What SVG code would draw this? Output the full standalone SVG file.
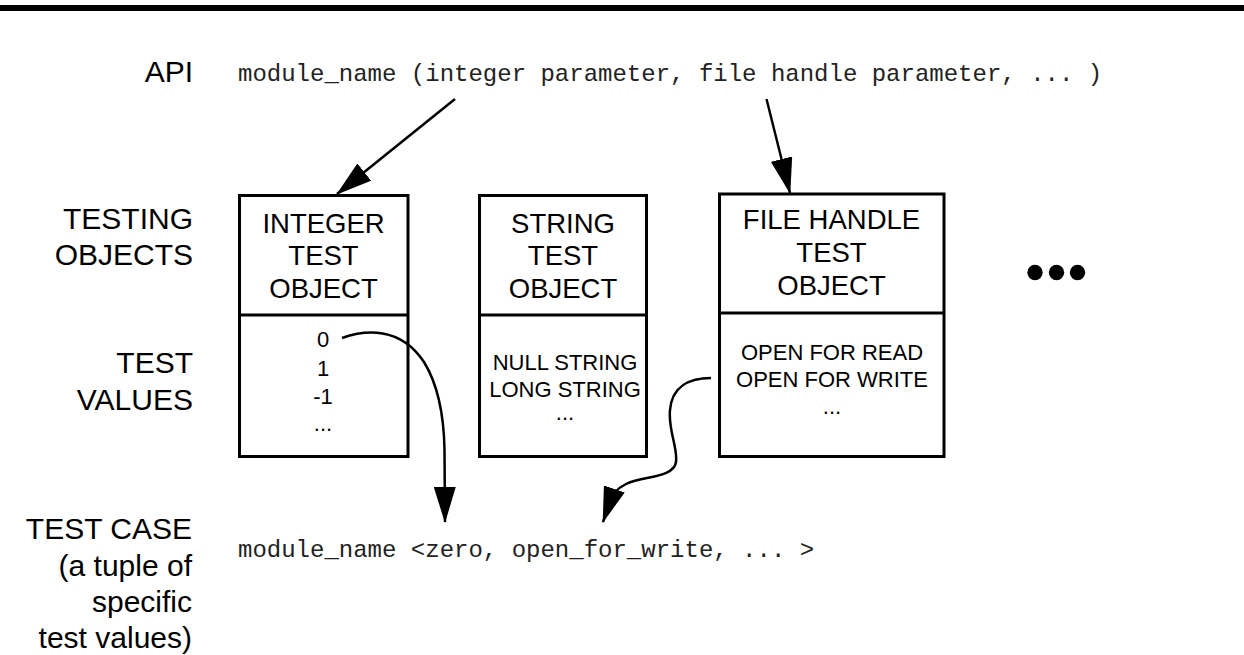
<svg xmlns="http://www.w3.org/2000/svg" width="1244" height="655" viewBox="0 0 1244 655">
<defs>
<style>
.lbl{font-family:"Liberation Sans",Arial,sans-serif;font-size:30px;fill:#000;text-anchor:end}
.ttl{font-family:"Liberation Sans",Arial,sans-serif;font-size:27.5px;fill:#000;text-anchor:middle}
.val{font-family:"Liberation Sans",Arial,sans-serif;font-size:22px;fill:#000;text-anchor:middle}
.mono{font-family:"Liberation Mono","Courier New",monospace;font-size:24px;fill:#222}
.box{fill:#fff;stroke:#000;stroke-width:3}
.div{stroke:#000;stroke-width:3}
.conn{fill:none;stroke:#000;stroke-width:2.5}
</style>
<marker id="arr" viewBox="0 0 36 22" refX="35" refY="11" markerWidth="36" markerHeight="22" markerUnits="userSpaceOnUse" orient="auto">
<path d="M0,0 L36,11 L0,22 Z" fill="#000"/>
</marker>
</defs>
<rect x="0" y="5" width="1244" height="6" fill="#000"/>

<g id="labels">
<text class="lbl" x="193" y="82">API</text>
<text class="lbl" x="193" y="229">TESTING</text>
<text class="lbl" x="193" y="265">OBJECTS</text>
<text class="lbl" x="193" y="373">TEST</text>
<text class="lbl" x="193" y="410">VALUES</text>
<text class="lbl" x="192" y="539">TEST CASE</text>
<text class="lbl" x="192" y="576">(a tuple of</text>
<text class="lbl" x="192" y="612">specific</text>
<text class="lbl" x="192" y="648">test values)</text>
</g>

<g id="api">
<text class="mono" x="238" y="81" xml:space="preserve">module_name (integer parameter, file handle parameter, ... )</text>
</g>

<g id="integer-object">
<rect class="box" x="239.5" y="195.5" width="168.5" height="261"/>
<line class="div" x1="239.5" y1="315" x2="408" y2="315"/>
<text class="ttl" x="323.5" y="232.5">INTEGER</text>
<text class="ttl" x="323.5" y="265">TEST</text>
<text class="ttl" x="323.5" y="297.5">OBJECT</text>
<text class="val" x="323" y="347">0</text>
<text class="val" x="323" y="376">1</text>
<text class="val" x="323" y="404">-1</text>
<text class="val" x="323" y="431">...</text>
</g>

<g id="string-object">
<rect class="box" x="479.5" y="195.5" width="167" height="261"/>
<line class="div" x1="479.5" y1="315" x2="646.5" y2="315"/>
<text class="ttl" x="563" y="232.5">STRING</text>
<text class="ttl" x="563" y="265">TEST</text>
<text class="ttl" x="563" y="297.5">OBJECT</text>
<text class="val" x="565" y="370">NULL STRING</text>
<text class="val" x="565" y="396.5">LONG STRING</text>
<text class="val" x="565" y="420">...</text>
</g>

<g id="filehandle-object">
<rect class="box" x="719.5" y="194" width="224.5" height="262.5"/>
<line class="div" x1="719.5" y1="313" x2="944" y2="313"/>
<text class="ttl" x="831.5" y="228.5">FILE HANDLE</text>
<text class="ttl" x="831.5" y="262">TEST</text>
<text class="ttl" x="831.5" y="295">OBJECT</text>
<text class="val" x="832" y="360">OPEN FOR READ</text>
<text class="val" x="832" y="386.5">OPEN FOR WRITE</text>
<text class="val" x="832" y="414">...</text>
</g>

<g id="more">
<circle cx="1035" cy="272.5" r="7.7" fill="#000"/>
<circle cx="1056.5" cy="272.5" r="7.7" fill="#000"/>
<circle cx="1077.5" cy="272.5" r="7.7" fill="#000"/>
</g>

<g id="testcase">
<text class="mono" x="238" y="557" xml:space="preserve">module_name &lt;zero, open_for_write, ... &gt;</text>
</g>

<g id="connectors">
<line class="conn" x1="455" y1="99" x2="337" y2="194" marker-end="url(#arr)"/>
<line class="conn" x1="766.5" y1="99" x2="790" y2="193" marker-end="url(#arr)"/>
<path class="conn" d="M342,338 C365,330 400,326 424,362 C440,388 444,420 444.5,450 L445,522" marker-end="url(#arr)"/>
<path class="conn" d="M711,378 C690,378 672,386 670,410 C668,430 678,448 676,462 C674,478 642,476 626,484 C616,489 611,496 609.5,503 L603,522" marker-end="url(#arr)"/>
</g>
</svg>
